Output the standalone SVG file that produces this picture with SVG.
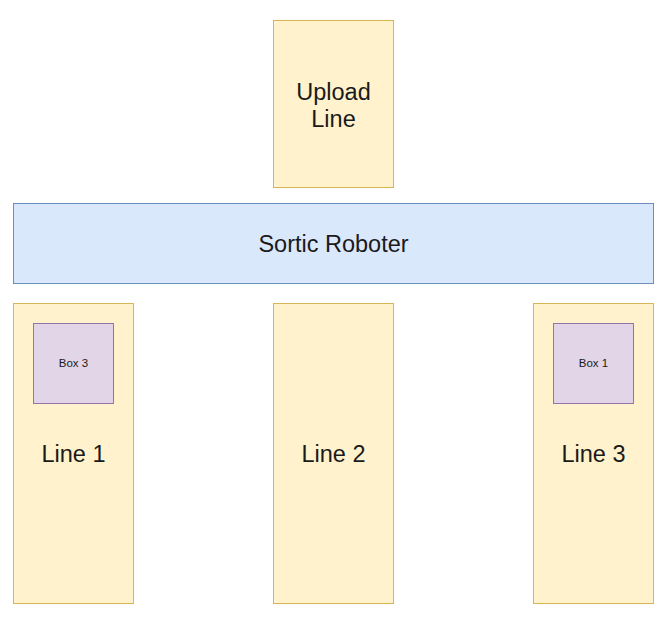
<svg xmlns="http://www.w3.org/2000/svg" width="667" height="617" viewBox="0 0 667 617">
<style>
.yl{fill:#fff2cc;stroke:#d6b656;stroke-width:1}
.bl{fill:#dae8fc;stroke:#6c8ebf;stroke-width:1}
.pu{fill:#e1d5e7;stroke:#9673a6;stroke-width:1}
.t{font-family:"Liberation Sans",Arial,sans-serif;font-size:23.5px;fill:#1a1a1a;text-anchor:middle}
.s{font-family:"Liberation Sans",Arial,sans-serif;font-size:11.5px;fill:#1a1a1a;text-anchor:middle}
</style>
<rect width="667" height="617" fill="#ffffff"/>
<g id="upload-line">
<rect class="yl" x="273.5" y="20.5" width="120" height="167"/>
<text class="t" x="333.5" y="100">Upload</text>
<text class="t" x="333.5" y="127">Line</text>
</g>
<g id="sortic-roboter">
<rect class="bl" x="13.5" y="203.5" width="640" height="80"/>
<text class="t" x="333.5" y="251.7">Sortic Roboter</text>
</g>
<g id="line-1">
<rect class="yl" x="13.5" y="303.5" width="120" height="300"/>
<text class="t" x="73.5" y="461.7">Line 1</text>
</g>
<g id="line-2">
<rect class="yl" x="273.5" y="303.5" width="120" height="300"/>
<text class="t" x="333.5" y="461.7">Line 2</text>
</g>
<g id="line-3">
<rect class="yl" x="533.5" y="303.5" width="120" height="300"/>
<text class="t" x="593.5" y="461.7">Line 3</text>
</g>
<g id="box-3">
<rect class="pu" x="33.5" y="323.5" width="80" height="80"/>
<text class="s" x="73.5" y="367.3">Box 3</text>
</g>
<g id="box-1">
<rect class="pu" x="553.5" y="323.5" width="80" height="80"/>
<text class="s" x="593.5" y="367.3">Box 1</text>
</g>
<g id="connectors"></g>
</svg>
